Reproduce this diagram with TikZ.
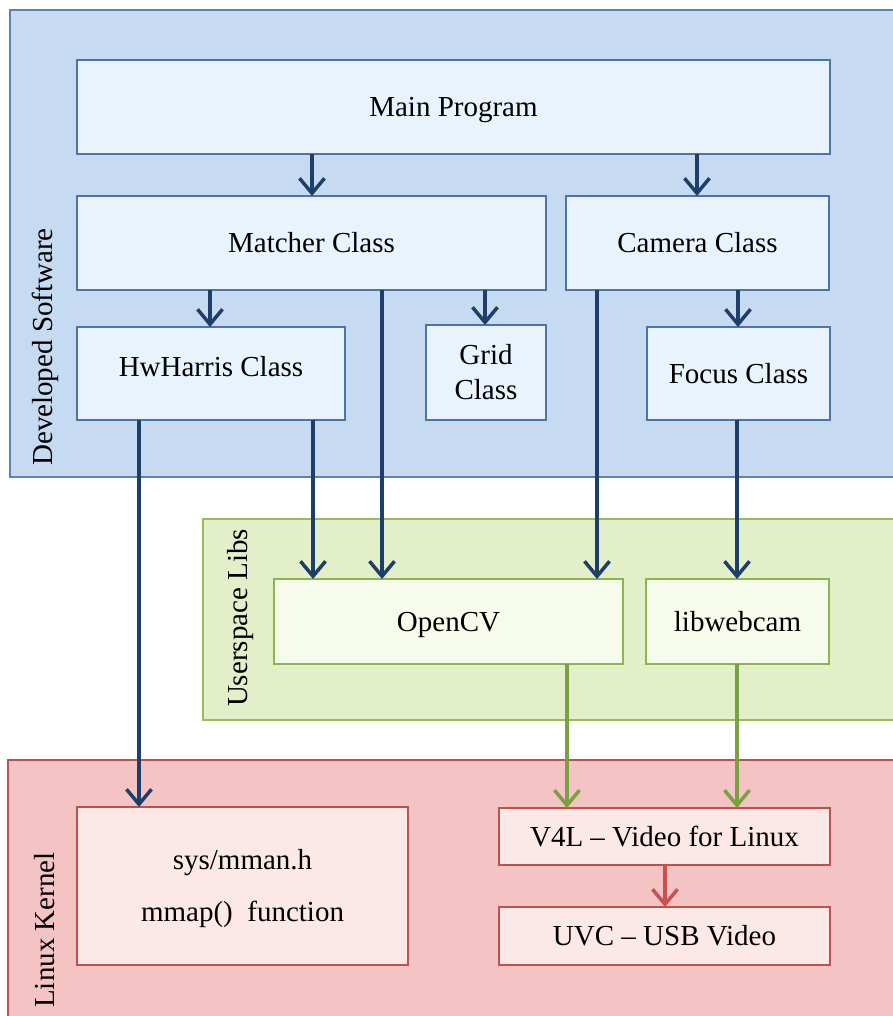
\documentclass[tikz,border=0pt]{standalone}
\usepackage{fontspec}
\setmainfont{Liberation Serif}
\usetikzlibrary{arrows.meta}
\definecolor{bluebg}{HTML}{C6DBF1}
\definecolor{blueframe}{HTML}{5B83B5}
\definecolor{bluebox}{HTML}{E9F3FD}
\definecolor{blueboxline}{HTML}{4D74A6}
\definecolor{bluearrow}{HTML}{1F3F6B}
\definecolor{greenbg}{HTML}{E2EFC8}
\definecolor{greenframe}{HTML}{9BBB59}
\definecolor{greenbox}{HTML}{F7FBEB}
\definecolor{greenboxline}{HTML}{8FB34F}
\definecolor{greenarrow}{HTML}{79A140}
\definecolor{redbg}{HTML}{F4C4C4}
\definecolor{redframe}{HTML}{C0504D}
\definecolor{redbox}{HTML}{FDE8E8}
\definecolor{redarrow}{HTML}{C9504F}
\tikzset{
  every node/.style={font=\fontsize{29}{36}\selectfont, inner sep=0pt, outer sep=0pt},
  layer/.style={draw, line width=1.2pt, anchor=north west},
  bluelayer/.style={layer, fill=bluebg, draw=blueframe},
  greenlayer/.style={layer, fill=greenbg, draw=greenframe},
  redlayer/.style={layer, fill=redbg, draw=redframe},
  boxbase/.style={draw, line width=1.2pt, align=center, text height=19pt, text depth=0pt},
  bluebx/.style={boxbase, fill=bluebox, draw=blueboxline},
  greenbx/.style={boxbase, fill=greenbox, draw=greenboxline},
  redbx/.style={boxbase, fill=redbox, draw=redframe},
  layerlabel/.style={rotate=90},
  arr/.style={line width=3.5pt, -{Straight Barb[length=15pt,width=25pt,line width=3.5pt]}},
  barr/.style={arr, draw=bluearrow},
  garr/.style={arr, draw=greenarrow},
  rarr/.style={arr, draw=redarrow},
}
\begin{document}
\begin{tikzpicture}[x=1pt,y=-1pt]
\useasboundingbox (0,0) rectangle (893,1016);
\clip (0,0) rectangle (893,1016);
% layers
\node[bluelayer, minimum width=900, minimum height=467] (sw) at (10,10) {};
\node[greenlayer, minimum width=700, minimum height=201] (ul) at (203,519) {};
\node[redlayer, minimum width=900, minimum height=270] (lk) at (8,760) {};
\node[layerlabel] (swlabel) at (45,347) {Developed Software};
\node[layerlabel] (ullabel) at (241,618) {Userspace Libs};
\node[layerlabel] (lklabel) at (45,930) {Linux Kernel};
% boxes
\node[bluebx, minimum width=753, minimum height=94] (main) at (453.5,107) {Main Program};
\node[bluebx, minimum width=469, minimum height=94] (matcher) at (311.5,243) {Matcher Class};
\node[bluebx, minimum width=263, minimum height=94] (camera) at (697.5,243) {Camera Class};
\node[bluebx, minimum width=268, minimum height=93, text depth=14pt] (hwharris) at (211,373.5) {HwHarris Class};
\node[bluebx, minimum width=120, minimum height=95, text height=54pt] (grid) at (486,372.5) {Grid\\[-1pt]Class};
\node[bluebx, minimum width=183, minimum height=93] (focus) at (738.5,373.5) {Focus Class};
\node[greenbx, minimum width=349, minimum height=85] (opencv) at (448.5,621.5) {OpenCV};
\node[greenbx, minimum width=183, minimum height=85] (libwebcam) at (737.5,621.5) {libwebcam};
\node[redbx, minimum width=331, minimum height=158, text height=71pt] (sys) at (242.5,886) {sys/mman.h\\[16pt]mmap()\ \ function};
\node[redbx, minimum width=331, minimum height=57] (v4l) at (664.5,836.5) {V4L -- Video for Linux};
\node[redbx, minimum width=331, minimum height=58] (uvc) at (664.5,936) {UVC -- USB Video};
% arrows
\draw[barr] ([xshift=235pt]main.south west) -- ([xshift=235pt]matcher.north west);
\draw[barr] ([xshift=620pt]main.south west) -- ([xshift=131pt]camera.north west);
\draw[barr] ([xshift=133pt]matcher.south west) -- ([xshift=133pt]hwharris.north west);
\draw[barr] ([xshift=408pt]matcher.south west) -- ([xshift=59pt]grid.north west);
\draw[barr] ([xshift=305pt]matcher.south west) -- ([xshift=108pt]opencv.north west);
\draw[barr] ([xshift=172pt]camera.south west) -- ([xshift=91pt]focus.north west);
\draw[barr] ([xshift=31pt]camera.south west) -- ([xshift=323pt]opencv.north west);
\draw[barr] ([xshift=62pt]hwharris.south west) -- ([xshift=62pt]sys.north west);
\draw[barr] ([xshift=236pt]hwharris.south west) -- ([xshift=39pt]opencv.north west);
\draw[barr] ([xshift=90pt]focus.south west) -- ([xshift=91pt]libwebcam.north west);
\draw[garr] ([xshift=293pt]opencv.south west) -- ([xshift=68pt]v4l.north west);
\draw[garr] ([xshift=91pt]libwebcam.south west) -- ([xshift=238pt]v4l.north west);
\draw[rarr] ([xshift=166pt]v4l.south west) -- ([xshift=166pt]uvc.north west);
\end{tikzpicture}
\end{document}
